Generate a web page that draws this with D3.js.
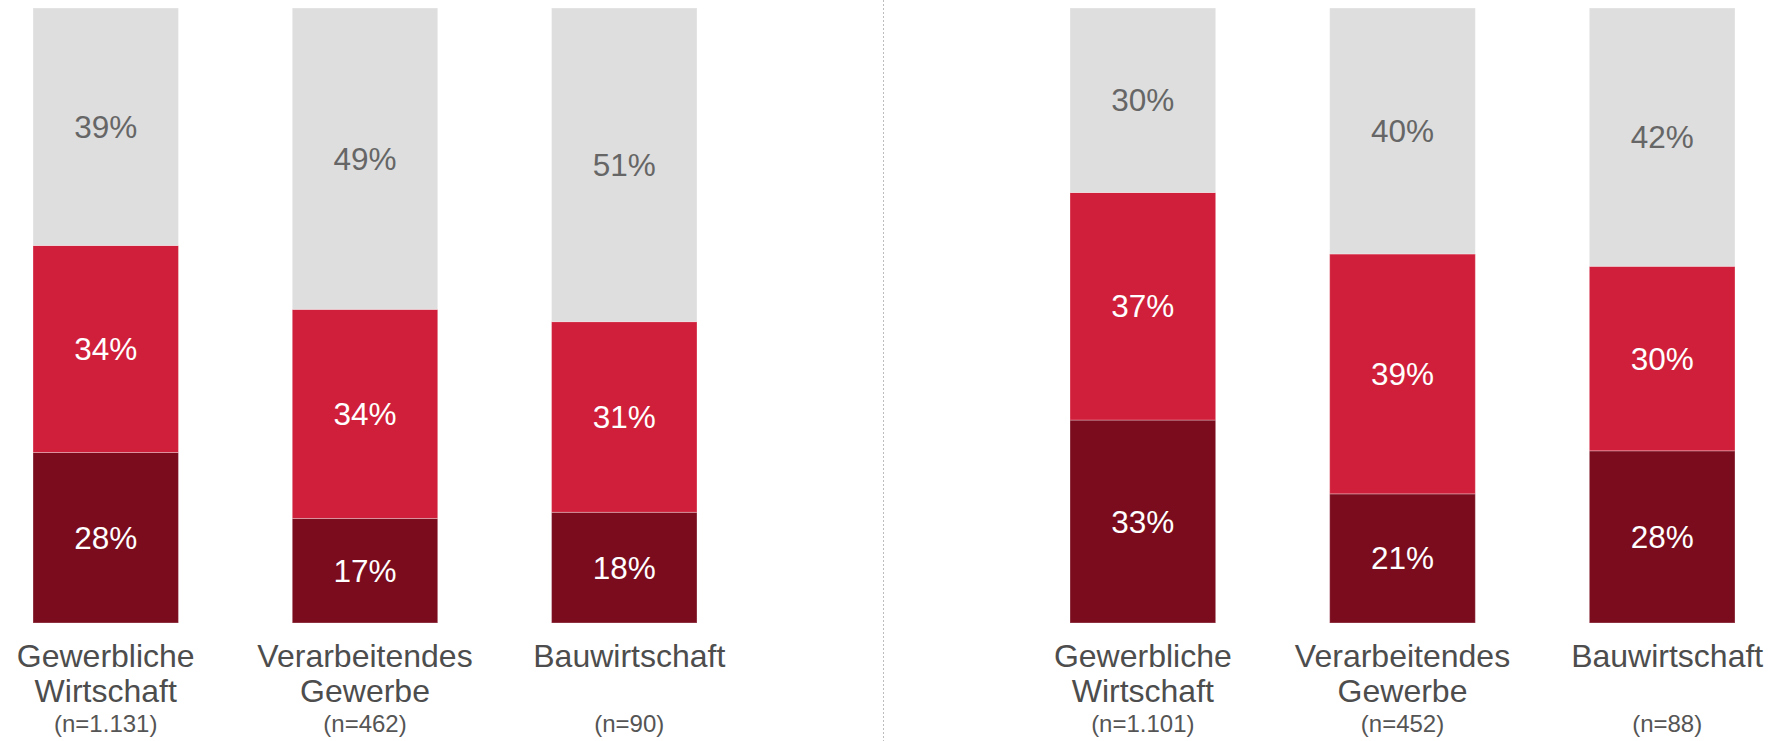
<!DOCTYPE html>
<html>
<head>
<meta charset="utf-8">
<script src="https://cdn.jsdelivr.net/npm/d3@7"></script>
<style>
  body { margin: 0; background: #fff; }
  svg { display: block; }
</style>
</head>
<body>
<div id="chart"></div>
<script>
"use-strict";

// categories (two lines each) and sample sizes
const categories = [["Gewerbliche", "Wirtschaft"], ["Verarbeitendes", "Gewerbe"], ["Bauwirtschaft", ""]];
const leftN = ["(n=1.131)", "(n=462)", "(n=90)"];
const rightN = ["(n=1.101)", "(n=452)", "(n=88)"];

// stacked values, bottom to top (dark, red, grey)
const leftDark = [28, 17, 18];
const leftRed = [34, 34, 31];
const leftGrey = [39, 49, 51];

const rightDark = [33, 21, 28];
const rightRed = [37, 39, 30];
const rightGrey = [30, 40, 42];

const msm = {
  width: 1783,
  height: 741,
  top: 8,
  bottom: 623
};

const colors = { dark: "#7a0c1e", red: "#d01f3a", grey: "#dedede" };
const textColors = { dark: "#ffffff", red: "#ffffff", grey: "#666666" };

let svgContainer = d3.select("#chart")
  .append("svg")
  .attr("width", msm.width)
  .attr("height", msm.height);

// y scale works on share of the bar total
const yScale = d3.scaleLinear()
  .domain([0, 1])
  .range([msm.bottom, msm.top]);

function drawPanel(x0, x1, dark, red, grey, nLabels) {
  let xScale = d3.scaleBand()
    .domain(d3.range(categories.length))
    .range([x0, x1])
    .paddingInner(0.439)
    .paddingOuter(0);

  let rows = d3.range(categories.length).map((i) => ({
    i: i, dark: dark[i], red: red[i], grey: grey[i],
    total: dark[i] + red[i] + grey[i]
  }));

  let stack = d3.stack().keys(["dark", "red", "grey"]);
  let series = stack(rows);

  let g = svgContainer.append("g");

  series.forEach((s) => {
    g.selectAll(".seg-" + s.key)
      .data(s)
      .enter()
      .append("rect")
      .attr("x", (d) => xScale(d.data.i))
      .attr("width", xScale.bandwidth())
      .attr("y", (d) => yScale(d[1] / d.data.total))
      .attr("height", (d) => yScale(d[0] / d.data.total) - yScale(d[1] / d.data.total))
      .attr("fill", colors[s.key])
      .attr("stroke", "rgba(255,255,255,0.3)")
      .attr("stroke-width", 1);

    g.selectAll(".lab-" + s.key)
      .data(s)
      .enter()
      .append("text")
      .attr("x", (d) => xScale(d.data.i) + xScale.bandwidth() / 2)
      .attr("y", (d) => (yScale(d[0] / d.data.total) + yScale(d[1] / d.data.total)) / 2 + 11)
      .attr("text-anchor", "middle")
      .style("font-family", "'Liberation Sans', Arial, sans-serif")
      .style("font-size", "31.5px")
      .style("fill", textColors[s.key])
      .text((d) => d.data[s.key] + "%");
  });

  // category labels
  rows.forEach((r) => {
    let cx = xScale(r.i) + xScale.bandwidth() / 2 + (r.i == 2 ? 5 : 0);
    g.append("text")
      .attr("x", cx)
      .attr("y", 667)
      .attr("text-anchor", "middle")
      .style("font-family", "'Liberation Sans', Arial, sans-serif")
      .style("font-size", "32px")
      .style("fill", "#4d4d4d")
      .text(categories[r.i][0]);
    g.append("text")
      .attr("x", cx)
      .attr("y", 702)
      .attr("text-anchor", "middle")
      .style("font-family", "'Liberation Sans', Arial, sans-serif")
      .style("font-size", "32px")
      .style("fill", "#4d4d4d")
      .text(categories[r.i][1]);
    g.append("text")
      .attr("x", cx)
      .attr("y", 732)
      .attr("text-anchor", "middle")
      .style("font-family", "'Liberation Sans', Arial, sans-serif")
      .style("font-size", "24px")
      .style("fill", "#555555")
      .text(nLabels[r.i]);
  });
}

drawPanel(33, 697, leftDark, leftRed, leftGrey, leftN);
drawPanel(1070, 1735, rightDark, rightRed, rightGrey, rightN);

// dotted divider between the two panels
svgContainer.append("line")
  .attr("x1", 883.5)
  .attr("x2", 883.5)
  .attr("y1", 0)
  .attr("y2", msm.height)
  .attr("stroke", "#bdbdbd")
  .attr("stroke-width", 1)
  .attr("stroke-dasharray", "2,2");
</script>
</body>
</html>
